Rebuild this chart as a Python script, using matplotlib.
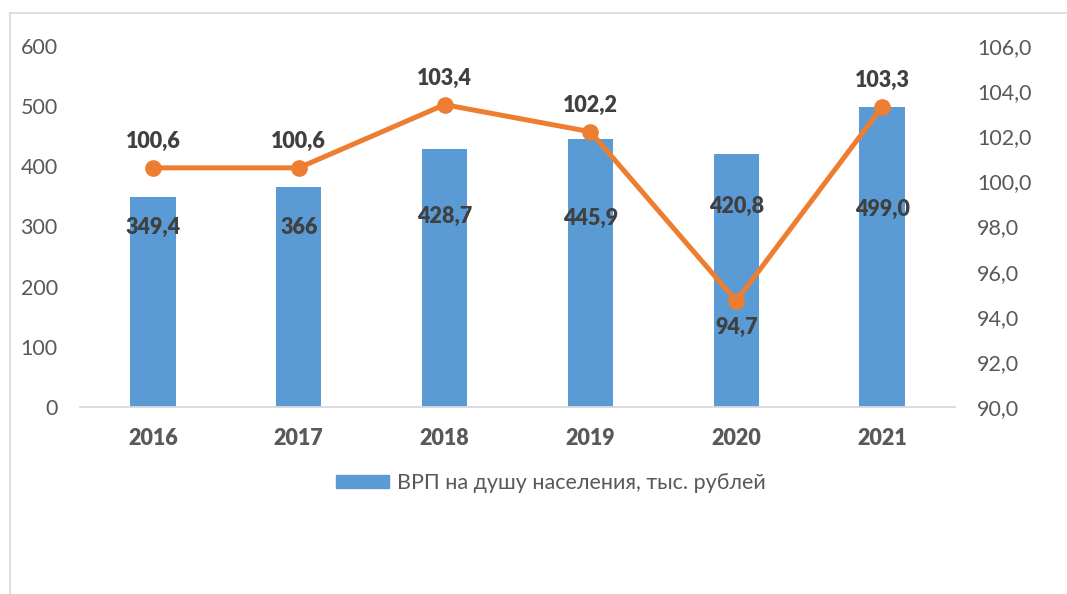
import matplotlib.pyplot as plt
from matplotlib.lines import Line2D
import numpy as np

# data
years = ['2016', '2017', '2018', '2019', '2020', '2021']
grp_per_capita = [349.4, 366.0, 428.7, 445.9, 420.8, 499.0]
grp_labels = ['349,4', '366', '428,7', '445,9', '420,8', '499,0']
growth_index = [100.6, 100.6, 103.4, 102.2, 94.7, 103.3]
growth_labels = ['100,6', '100,6', '103,4', '102,2', '94,7', '103,3']
legend_text = 'ВРП на душу населения, тыс. рублей'

# layout of the value labels (left-axis units / offset direction)
bar_label_y = [298, 299, 316, 313, 333, 329]
line_label_dir = [1, 1, 1, 1, -1, 1]

W, H = 1067, 594
fonts = ['Lato', 'DejaVu Sans']
plt.rcParams['font.family'] = fonts
blue = '#5B9BD5'
orange = '#ED7D31'
grey_txt = '#595959'
dark_txt = '#404040'
fs = 15.5

fig = plt.figure(figsize=(W / 100, H / 100), dpi=100)
ax = fig.add_axes([80 / W, (H - 407) / H, 875 / W, (407 - 46) / H])
ax2 = ax.twinx()

x = np.arange(len(years))
ax.bar(x, grp_per_capita, width=0.31, color=blue, zorder=2)
ax.set_xlim(-0.5, len(years) - 0.5)
ax.set_ylim(0, 600)
ax.set_yticks(range(0, 601, 100))
ax.set_xticks(x)

for i in range(len(years)):
    ax.text(x[i], bar_label_y[i], grp_labels[i], ha='center', va='center',
            fontsize=fs, fontweight='heavy', color=dark_txt, zorder=5)

ax2.plot(x, growth_index, color=orange, lw=3.6, marker='o', ms=11, zorder=3,
         solid_capstyle='round')
ax2.set_ylim(90, 106)
ax2.set_yticks(np.arange(90, 106.1, 2))
ax2.set_yticklabels([f'{v:.1f}'.replace('.', ',') for v in np.arange(90, 106.1, 2)])

for i in range(len(years)):
    ax2.annotate(growth_labels[i], (x[i], growth_index[i]),
                 xytext=(0, 19 * line_label_dir[i]), textcoords='offset points',
                 ha='center', va='center', fontsize=fs, fontweight='heavy',
                 color=dark_txt, zorder=6)

for a in (ax, ax2):
    for s in a.spines.values():
        s.set_visible(False)
    a.tick_params(length=0, labelsize=fs, labelcolor=grey_txt)
ax.tick_params(axis='y', pad=16)
ax.tick_params(axis='x', pad=15)
ax2.tick_params(axis='y', pad=16)
ax.set_xticklabels(years, fontweight='heavy', fontsize=fs, color=grey_txt)
ax.spines['bottom'].set_visible(True)
ax.spines['bottom'].set_color('#D9D9D9')
ax.spines['bottom'].set_linewidth(1.3)

# legend with only the bar series
handle = plt.Rectangle((0, 0), 1, 1, color=blue)
fig.legend([handle], [legend_text], loc='center', bbox_to_anchor=(551 / W, 1 - 483 / H),
           frameon=False, fontsize=fs, labelcolor=grey_txt, handlelength=2.45,
           handleheight=0.6, handletextpad=0.4)

# chart border (cropped at the right and bottom)
fig.add_artist(Line2D([9.5 / W, 1.0], [1 - 13 / H, 1 - 13 / H], color='#D9D9D9', lw=1.2))
fig.add_artist(Line2D([9.5 / W, 9.5 / W], [0.0, 1 - 13 / H], color='#D9D9D9', lw=1.2))

fig.savefig('out.png', dpi=100, facecolor='white')
